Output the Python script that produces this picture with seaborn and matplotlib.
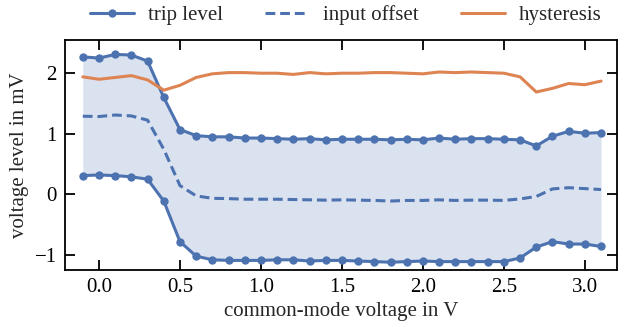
import numpy as np
import pandas as pd
import matplotlib
matplotlib.use("Agg")
import matplotlib.pyplot as plt
import seaborn as sns

# ---- data ----
vcm = [-0.1, 0.0, 0.1, 0.2, 0.3, 0.4, 0.5, 0.6, 0.7, 0.8, 0.9, 1.0, 1.1, 1.2, 1.3, 1.4, 1.5,
       1.6, 1.7, 1.8, 1.9, 2.0, 2.1, 2.2, 2.3, 2.4, 2.5, 2.6, 2.7, 2.8, 2.9, 3.0, 3.1]
trip_upper = [2.27, 2.25, 2.31, 2.30, 2.20, 1.60, 1.07, 0.97, 0.95, 0.95, 0.93, 0.93, 0.92, 0.91, 0.92, 0.90, 0.91,
              0.91, 0.91, 0.90, 0.91, 0.90, 0.93, 0.91, 0.92, 0.92, 0.91, 0.90, 0.80, 0.96, 1.04, 1.01, 1.02]
trip_lower = [0.31, 0.32, 0.31, 0.29, 0.25, -0.11, -0.78, -1.02, -1.08, -1.09, -1.09, -1.09, -1.08, -1.08, -1.10, -1.09, -1.09,
              -1.10, -1.11, -1.12, -1.11, -1.10, -1.11, -1.11, -1.11, -1.11, -1.11, -1.05, -0.87, -0.78, -0.82, -0.82, -0.86]
input_offset = [1.29, 1.285, 1.31, 1.295, 1.225, 0.745, 0.145, -0.025, -0.065, -0.07, -0.08, -0.08, -0.08, -0.085, -0.09, -0.095, -0.09,
                -0.095, -0.10, -0.11, -0.10, -0.10, -0.09, -0.10, -0.095, -0.095, -0.10, -0.075, -0.035, 0.09, 0.11, 0.095, 0.08]
hysteresis = [1.94, 1.90, 1.93, 1.96, 1.89, 1.72, 1.80, 1.93, 1.99, 2.01, 2.01, 2.00, 2.00, 1.98, 2.01, 1.99, 2.00,
              2.00, 2.01, 2.01, 2.00, 1.99, 2.02, 2.01, 2.02, 2.01, 2.00, 1.94, 1.69, 1.75, 1.83, 1.81, 1.87]

x_ticks = [0.0, 0.5, 1.0, 1.5, 2.0, 2.5, 3.0]
y_ticks = [-1, 0, 1, 2]

# ---- style ----
sns.set_theme(style="ticks")
plt.rcParams["font.family"] = ["Liberation Serif", "DejaVu Serif"]

blue, orange = sns.color_palette("deep")[0], sns.color_palette("deep")[1]
FS = 15

df = pd.DataFrame({"vcm": vcm, "upper": trip_upper, "lower": trip_lower,
                   "offset": input_offset, "hyst": hysteresis})

fig = plt.figure(figsize=(6.37, 3.27), dpi=100)
ax = fig.add_axes([0.102, 0.174, 0.867, 0.704])

ax.fill_between(df["vcm"], df["lower"], df["upper"], color=blue, alpha=0.2, linewidth=0)

sns.lineplot(data=df, x="vcm", y="upper", ax=ax, color=blue, lw=2.2, marker="o",
             markersize=6, markeredgewidth=0, label="trip level")
sns.lineplot(data=df, x="vcm", y="lower", ax=ax, color=blue, lw=2.2, marker="o",
             markersize=6, markeredgewidth=0, label="_nolegend_")
sns.lineplot(data=df, x="vcm", y="offset", ax=ax, color=blue, lw=2.2, ls=(0, (3.2, 1.6)),
             label="input offset")
sns.lineplot(data=df, x="vcm", y="hyst", ax=ax, color=orange, lw=2.2, label="hysteresis")

ax.set_xlim(-0.21, 3.2)
ax.set_ylim(-1.25, 2.55)
ax.set_xticks(x_ticks)
ax.set_xticklabels([f"{t:.1f}" for t in x_ticks])
ax.set_yticks(y_ticks)
ax.set_xlabel("common-mode voltage in V", fontsize=FS, labelpad=3)
ax.set_ylabel("voltage level in mV", fontsize=FS, labelpad=4)
ax.tick_params(direction="in", top=True, right=True, length=7, width=1.3,
               labelsize=FS, color="black", labelcolor="black", pad=6)
for s in ax.spines.values():
    s.set_visible(True)
    s.set_linewidth(1.3)
    s.set_color("black")

ax.legend(loc="center", bbox_to_anchor=(346 / 637, 1 - 15 / 327), bbox_transform=fig.transFigure,
          ncol=3, frameon=False, fontsize=FS, handlelength=2.1, handletextpad=0.7,
          columnspacing=2.0, borderaxespad=0.0, borderpad=0.0)

fig.savefig("out.png", dpi=100)
